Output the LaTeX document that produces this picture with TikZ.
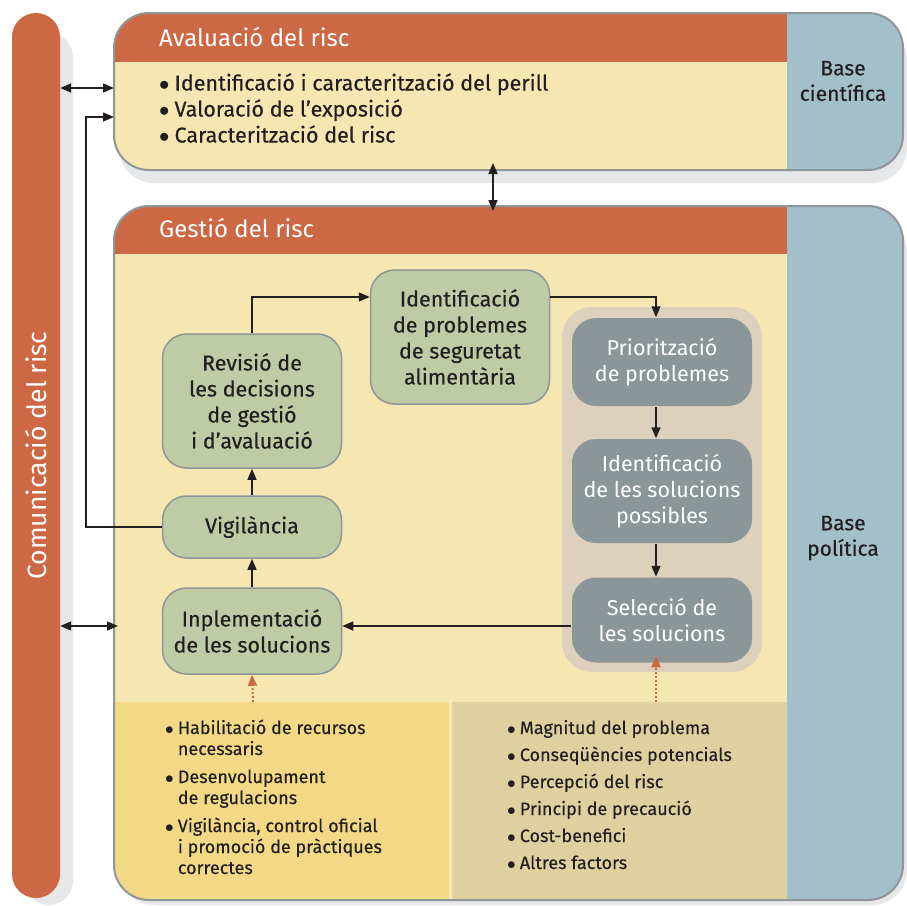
\documentclass[tikz,border=0pt]{standalone}
\usepackage{fontspec}
\setmainfont{Fira Sans}[UprightFeatures={FakeBold=0.35}]
\newfontfamily\headfont{Fira Sans}
\usetikzlibrary{arrows.meta}
\definecolor{riskorange}{RGB}{204,105,68}
\definecolor{riskbeige}{RGB}{246,230,178}
\definecolor{riskblue}{RGB}{163,191,202}
\definecolor{riskgreen}{RGB}{190,203,165}
\definecolor{riskgrey}{RGB}{140,149,151}
\definecolor{riskframe}{RGB}{142,150,153}
\definecolor{risktan}{RGB}{221,209,190}
\definecolor{riskyellow}{RGB}{243,217,133}
\definecolor{risksand}{RGB}{223,208,160}
\definecolor{riskshadow}{RGB}{230,231,233}
\definecolor{riskink}{RGB}{35,31,32}
\newcommand{\riskdot}{$\bullet$}

\begin{document}
\begin{tikzpicture}[
    x=1pt, y=-1pt,
    stepnode/.style={
        rectangle, rounded corners=24pt,
        draw=riskframe, line width=1.5pt,
        fill=riskgreen, text=riskink,
        minimum width=179pt, inner sep=2pt,
        align=center,
        font=\fontsize{21.5}{26}\selectfont
    },
    choicenode/.style={stepnode, draw=none, fill=riskgrey,
        text=white, minimum width=180pt,
        font=\headfont\fontsize{21.5}{26}\selectfont},
    headtext/.style={anchor=west, text=white, inner sep=0pt,
        font=\headfont\fontsize{24}{28}\selectfont},
    basetext/.style={align=center, text=riskink,
        font=\fontsize{21}{25.5}\selectfont},
    bulletlist/.style={anchor=base west, inner sep=0pt, text=riskink},
    flow/.style={-{Triangle[length=11pt, width=9pt]},
        line width=1.5pt, draw=riskink},
    twoway/.style={{Triangle[length=11pt, width=9pt]}-{Triangle[length=11pt, width=9pt]},
        line width=1.5pt, draw=riskink},
    hint/.style={-{Triangle[length=11pt, width=9pt]},
        line width=2pt, dotted, draw=riskorange}
]
\useasboundingbox (0,0) rectangle (907,905);

% communication bar
\fill[riskshadow, rounded corners=24pt] (25,33) rectangle (73,905);
\node[rotate=90, fill=riskorange, rounded corners=24pt,
      minimum width=885pt, minimum height=48pt,
      text=white, font=\headfont\fontsize{26.5}{30}\selectfont]
    (comm) at (36,455.5) {Comunicació del risc};

% risk assessment box
\fill[riskshadow, rounded corners=35pt] (119,25) rectangle (907,183);
\begin{scope}
    \clip[rounded corners=35pt] (114,13) rectangle (903,170);
    \fill[riskbeige] (114,13) rectangle (787,170);
    \fill[riskorange] (114,13) rectangle (787,62);
    \fill[riskblue] (787,13) rectangle (903,170);
\end{scope}
\draw[riskframe, line width=2pt, rounded corners=35pt]
    (114,13) rectangle (903,170);
\node[headtext] (evaltitle) at (159,37) {Avaluació del risc};
\node[bulletlist, font=\fontsize{21.5}{26}\selectfont] (evallist) at (159,90.5)
    {\begin{tabular}[t]{@{}l@{\hspace{5pt}}l@{}}
     \riskdot & Identificació i caracterització del perill\\
     \riskdot & Valoració de l’exposició\\
     \riskdot & Caracterització del risc
     \end{tabular}};
\node[basetext] (science) at (843,81) {Base\\científica};

% risk management box
\fill[riskshadow, rounded corners=35pt] (119,216) rectangle (907,905);
\begin{scope}
    \clip[rounded corners=35pt] (114,206) rectangle (903,900);
    \fill[riskbeige] (114,206) rectangle (787,900);
    \fill[riskorange] (114,206) rectangle (787,254);
    \fill[riskyellow] (114,702) rectangle (449,900);
    \fill[risksand] (452,702) rectangle (787,900);
    \fill[riskblue] (787,206) rectangle (903,900);
\end{scope}
\draw[riskframe, line width=2pt, rounded corners=35pt]
    (114,206) rectangle (903,900);
\node[headtext] (mgmttitle) at (159,228) {Gestió del risc};
\node[basetext] (policy) at (843,538) {Base\\política};

\fill[risktan, rounded corners=30pt] (562,307) rectangle (762,672);

% process steps
\node[stepnode, minimum height=134pt] (issue) at (460,337)
    {Identificació\\de problemes\\de seguretat\\alimentària};
\node[stepnode, minimum height=134pt] (review) at (252,401)
    {Revisió de\\les decisions\\de gestió\\i d’avaluació};
\node[stepnode, minimum height=62pt] (watch) at (252,527) {Vigilància};
\node[stepnode, minimum height=86pt] (apply) at (252,631)
    {Inplementació\\de les solucions};
\node[choicenode, minimum height=88pt] (rank) at (662,362)
    {Priorització\\de problemes};
\node[choicenode, minimum height=104pt] (options) at (662,491)
    {Identificació\\de les solucions\\possibles};
\node[choicenode, minimum height=85pt] (select) at (662,620)
    {Selecció de\\les solucions};

% factor lists
\node[bulletlist, font=\fontsize{18}{21}\selectfont] (needs) at (165,734)
    {\begin{tabular}[t]{@{}l@{\hspace{4pt}}l@{}}
     \riskdot & Habilitació de recursos\\
              & necessaris\\[7pt]
     \riskdot & Desenvolupament\\
              & de regulacions\\[7pt]
     \riskdot & Vigilància, control oficial\\
              & i promoció de pràctiques\\
              & correctes
     \end{tabular}};
\node[bulletlist, font=\fontsize{18}{21}\selectfont] (factors) at (507,734)
    {\begin{tabular}[t]{@{}l@{\hspace{4pt}}l@{}}
     \riskdot & Magnitud del problema\\[6pt]
     \riskdot & Conseqüències potencials\\[6pt]
     \riskdot & Percepció del risc\\[6pt]
     \riskdot & Principi de precaució\\[6pt]
     \riskdot & Cost-benefici\\[6pt]
     \riskdot & Altres factors
     \end{tabular}};

% connector ends on the big boxes
\coordinate (evalW) at (114,88);
\coordinate (evalin) at (114,117);
\coordinate (bend) at (86,117);
\coordinate (evalS) at (493,163);
\coordinate (mgmtN) at (493,211);
\coordinate (mgmtW) at (118,626);
\coordinate (needsN) at (253,702);
\coordinate (factorsN) at (656,702);

\draw[twoway] (comm.south |- evalW) -- (evalW);
\draw[twoway] (comm.south |- mgmtW) -- (mgmtW);
\draw[twoway] (evalS) -- (mgmtN);
\draw[flow] (watch.west) -| (bend) -- (evalin);

\draw[flow] (review.north) |- ([yshift=40pt]issue.west);
\draw[flow] ([yshift=40pt]issue.east) -| ([xshift=-6pt]rank.north);
\foreach \a/\b in {rank/options, options/select}{
    \draw[flow] ([xshift=-6pt]\a.south) -- ([xshift=-6pt]\b.north);
}
\draw[flow] (select.west |- mgmtW) -- (apply.east |- mgmtW);
\foreach \a/\b in {apply/watch, watch/review}{
    \draw[flow] (\a.north) -- (\b.south);
}
\draw[hint] (needsN) -- (apply.south);
\draw[hint] (factorsN) -- ([xshift=-6pt, yshift=7pt]select.south);
\end{tikzpicture}
\end{document}
